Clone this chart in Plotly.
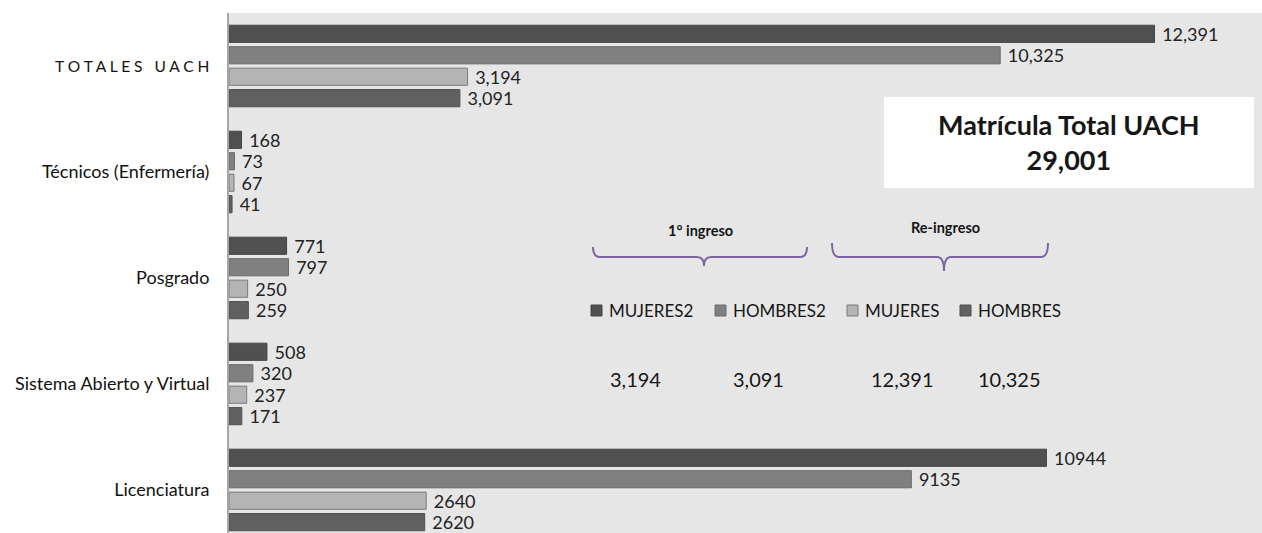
import plotly.graph_objects as go

# ---------------- data ----------------
categories = ["Licenciatura", "Sistema Abierto y Virtual", "Posgrado",
              "Técnicos (Enfermería)", "TOTALES UACH"]
series_names = ["MUJERES2", "HOMBRES2", "MUJERES", "HOMBRES"]
mujeres2 = [10944, 508, 771, 168, 12391]
hombres2 = [9135, 320, 797, 73, 10325]
mujeres = [2640, 237, 250, 67, 3194]
hombres = [2620, 171, 259, 41, 3091]
use_thousands_sep = [False, True, True, True, True]

summary_title = "Matrícula Total UACH"
summary_value = 29001
group_titles = ["1° ingreso", "Re-ingreso"]

# ---------------- style ----------------
fill_colors = {"MUJERES2": "#505050", "HOMBRES2": "#808080",
               "MUJERES": "#b4b4b4", "HOMBRES": "#606060"}
line_colors = {"MUJERES2": "#454545", "HOMBRES2": "#6a6a6a",
               "MUJERES": "#7a7a7a", "HOMBRES": "#4f4f4f"}
FONT = "Lato, 'Open Sans', sans-serif"
W, H = 1262, 533
ML, MT, MR, MB = 229, 13, 0, 0


def px(x):
    return (x - ML) / (W - ML - MR)


def py(y):
    return (H - MB - y) / (H - MT - MB)


def fmt(v, sep):
    return f"{v:,}" if sep else f"{v}"


def tick_label(c):
    if c == "TOTALES UACH":
        spaced = "\u00a0\u00a0\u00a0".join(" ".join(w) for w in c.split())
        return f'<span style="font-size:15.5px">{spaced}</span>'
    return c


values = {"MUJERES2": mujeres2, "HOMBRES2": hombres2,
          "MUJERES": mujeres, "HOMBRES": hombres}

fig = go.Figure()
# plotly stacks group members bottom-up, so add in reverse of the visual top-down order
for name in reversed(series_names):
    vals = values[name]
    fig.add_trace(go.Bar(
        y=categories, x=vals, orientation="h", name=name,
        marker=dict(color=fill_colors[name],
                    line=dict(color=line_colors[name], width=1)),
        text=["\u00a0" + fmt(v, s) for v, s in zip(vals, use_thousands_sep)],
        textposition="outside", cliponaxis=False, constraintext="none",
        textfont=dict(family=FONT, size=18, color="#222222"),
        showlegend=False, hoverinfo="x+name",
    ))

shapes = []
annotations = []


def note(x, y, text, size, anchor="center"):
    annotations.append(dict(xref="paper", yref="paper", x=px(x), y=py(y),
                            xanchor=anchor, yanchor="middle", text=text,
                            showarrow=False, align="center",
                            font=dict(family=FONT, size=size, color="#161616")))


# summary box
shapes.append(dict(type="rect", xref="paper", yref="paper",
                   x0=px(884), x1=px(1254), y0=py(188), y1=py(97),
                   fillcolor="white", line=dict(width=0), layer="above"))
note(1069, 142, f"<b>{summary_title}<br>{summary_value:,}</b>", 27)


# braces
def brace(x0, x1, xt, ytop, ymid, ytip):
    r = 7
    p = (f"M {px(x0)},{py(ytop)} Q {px(x0)},{py(ymid)} {px(x0 + r)},{py(ymid)} "
         f"L {px(xt - r)},{py(ymid)} Q {px(xt)},{py(ymid)} {px(xt)},{py(ytip)} "
         f"Q {px(xt)},{py(ymid)} {px(xt + r)},{py(ymid)} "
         f"L {px(x1 - r)},{py(ymid)} Q {px(x1)},{py(ymid)} {px(x1)},{py(ytop)}")
    return dict(type="path", xref="paper", yref="paper", path=p,
                line=dict(color="#8064a2", width=2))


shapes.append(brace(593, 807, 704, 247, 257, 266))
shapes.append(brace(832, 1048, 944, 243, 257, 271))
note(700, 231, f"<b>{group_titles[0]}</b>", 14.5)
note(945, 227, f"<b>{group_titles[1]}</b>", 14.5)

# manual legend
legend_sq_x = [591, 715, 847, 960]
for name, sx in zip(series_names, legend_sq_x):
    shapes.append(dict(type="rect", xref="paper", yref="paper",
                       x0=px(sx), x1=px(sx + 11), y0=py(316), y1=py(305),
                       fillcolor=fill_colors[name],
                       line=dict(color=line_colors[name], width=1)))
    note(sx + 16, 310.5, name, 17, anchor="left")

# totals row under legend (taken from the TOTALES category)
ti = len(categories) - 1
row_vals = [mujeres[ti], hombres[ti], mujeres2[ti], hombres2[ti]]
row_x = [635, 758, 902, 1009]
for v, cx in zip(row_vals, row_x):
    note(cx, 379, f"{v:,}", 20)

fig.update_layout(
    width=W, height=H,
    margin=dict(l=ML, r=MR, t=MT, b=MB, pad=0),
    paper_bgcolor="white", plot_bgcolor="#e6e6e6",
    barmode="group", bargap=0.19, bargroupgap=0.2,
    shapes=shapes, annotations=annotations,
    xaxis=dict(range=[0, 13830], showgrid=False, zeroline=False,
               showticklabels=False, ticks="", fixedrange=True),
    yaxis=dict(type="category", categoryorder="array", categoryarray=categories,
               tickvals=categories, ticktext=[tick_label(c) for c in categories],
               range=[-0.406, 4.5], showgrid=False, zeroline=False,
               showline=True, linecolor="#a6a6a6", linewidth=2,
               ticks="outside", ticklen=14, tickcolor="rgba(0,0,0,0)",
               tickfont=dict(family=FONT, size=18, color="#111111")),
    font=dict(family=FONT),
)

fig.write_html("out.html",
               config={"displayModeBar": False},
               post_script="document.body.style.margin='0';"
                           "document.body.style.overflow='hidden';")
